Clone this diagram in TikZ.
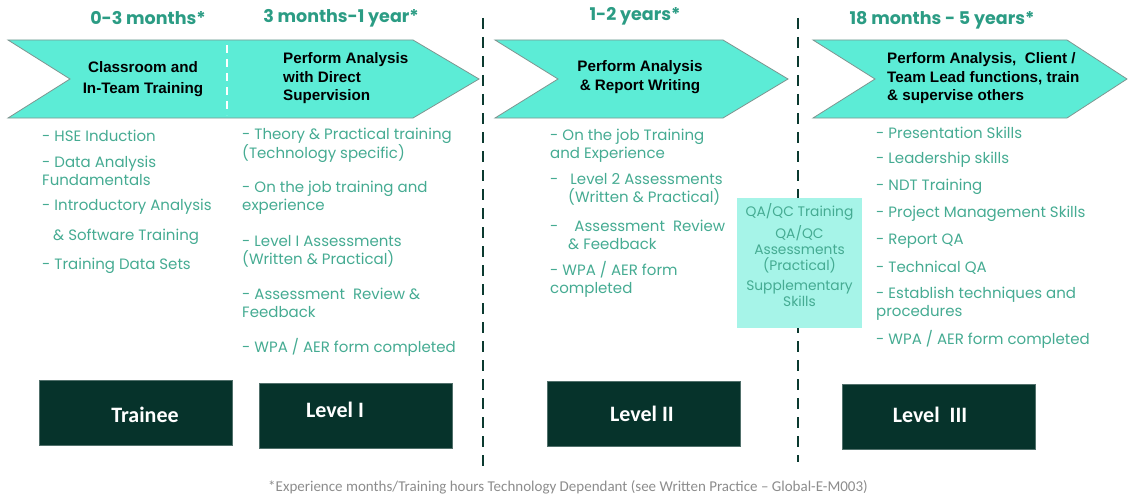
\documentclass[tikz,border=0pt]{standalone}
\usepackage{fontspec}
\setmainfont{Poppins}
\newfontfamily\chevfont{Liberation Sans}
\newfontfamily\lvfont{Carlito}
\usepackage{tikz}
\definecolor{chevfill}{HTML}{5CECD6}
\definecolor{chevedge}{HTML}{7F9590}
\definecolor{qafill}{HTML}{A6F4E8}
\definecolor{lvgreen}{HTML}{06332B}
\definecolor{headteal}{HTML}{2B9C84}
\definecolor{itemteal}{HTML}{45AB92}
\definecolor{divider}{HTML}{0B3A30}
\definecolor{notegray}{HTML}{8C8C8C}
\tikzset{
  chev/.style={fill=chevfill, draw=chevedge, line width=0.8pt},
  divide/.style={draw=divider, line width=2.6pt, dash pattern=on 11pt off 8pt},
  split/.style={draw=white, line width=2pt, dash pattern=on 8pt off 6pt},
  period/.style={inner sep=0pt, text=headteal, font=\fontsize{17.5}{20}\selectfont\bfseries},
  chevtext/.style={inner sep=0pt, text=black, font=\chevfont\fontsize{15.2}{18.5}\selectfont\bfseries},
  entry/.style={inner sep=0pt, anchor=west, align=left, text=itemteal, font=\fontsize{15}{18}\selectfont},
  lvbox/.style={fill=lvgreen, draw=lvgreen!70!white, line width=0.6pt, minimum width=193pt, minimum height=65pt},
  lvtext/.style={inner sep=0pt, text=white, font=\lvfont\fontsize{22}{26}\selectfont\bfseries},
  qabox/.style={fill=qafill, minimum width=125pt, minimum height=130pt},
  note/.style={inner sep=0pt, text=notegray, font=\lvfont\fontsize{15}{17}\selectfont}
}
\newcommand{\DrawChevron}[4]{% left,notch,slope,tip
  \draw[chev] (#1,40) -- (#3,40) -- (#4,79) -- (#3,118) -- (#1,118) -- (#2,79) -- cycle;
}

\begin{document}
\begin{tikzpicture}[x=1pt, y=-1pt]
  \useasboundingbox (0,0) rectangle (1128,495);

  % time spans
  \node[period] (hd1) at (148,18) {0-3 months*};
  \node[period] (hd2) at (341,18) {3 months-1 year*};
  \node[period] (hd3) at (635,16) {1-2 years*};
  \node[period] (hd4) at (942,20) {18 months - 5 years*};

  % stage dividers
  \draw[divide] (483,18) -- (483,470);
  \draw[divide] (798,18) -- (798,462);

  % chevrons
  \DrawChevron{8}{70}{413}{479}
  \DrawChevron{495}{558}{723}{788}
  \DrawChevron{813}{875}{1067}{1127}
  \draw[split] (227,45) -- (227,115);

  \node[chevtext, align=center, font=\chevfont\fontsize{15.2}{21}\selectfont\bfseries]
    (ch1) at (143,79.5) {Classroom and\\In-Team Training};
  \node[chevtext, align=left, anchor=west] (ch2) at (283,78.5)
    {Perform Analysis\\with Direct\\Supervision};
  \node[chevtext, align=center] (ch3) at (640,77) {Perform Analysis\\\& Report Writing};
  \node[chevtext, align=left, anchor=west] (ch4) at (887,78.5)
    {Perform Analysis,~ Client /\\Team Lead functions, train\\\& supervise others};

  % trainee
  \node[entry] (c1a) at (42,136) {- HSE Induction};
  \node[entry] (c1b) at (42,171) {- Data Analysis\\Fundamentals};
  \node[entry] (c1c) at (42,207) {- Introductory Analysis};
  \node[entry] (c1d) at (53,237) {\& Software Training};
  \node[entry] (c1e) at (42,266) {- Training Data Sets};

  % level I
  \node[entry] (c2a) at (242,145) {- Theory \& Practical training\\(Technology specific)};
  \node[entry] (c2b) at (242,198) {- On the job training and\\experience};
  \node[entry] (c2c) at (242,251) {- Level I Assessments\\(Written \& Practical)};
  \node[entry] (c2d) at (242,303) {- Assessment~ Review \&\\Feedback};
  \node[entry] (c2e) at (242,347) {- WPA / AER form completed};

  % level II
  \node[entry] (c3a) at (550,145.5) {- On the job Training\\and Experience};
  \node[entry] (c3b) at (550,189.5) {-~~ Level 2 Assessments\\\hspace*{18pt}(Written \& Practical)};
  \node[entry] (c3c) at (550,234.5) {-~~~ Assessment~ Review\\\hspace*{18pt}\& Feedback};
  \node[entry] (c3d) at (550,279) {- WPA / AER form\\completed};

  % QA/QC between II and III
  \node[qabox] (qa) at (799.5,263) {};
  \node[inner sep=0pt, align=center, text=itemteal, font=\fontsize{13.8}{16}\selectfont]
    (qatext) at (799.5,255) {QA/QC Training\\[4pt]QA/QC\\Assessments\\(Practical)\\[4pt]Supplementary\\Skills};

  % level III
  \node[entry] (c4a) at (876,133) {- Presentation Skills};
  \node[entry] (c4b) at (876,160) {- Leadership skills};
  \node[entry] (c4c) at (876,187) {- NDT Training};
  \node[entry] (c4d) at (876,214) {- Project Management Skills};
  \node[entry] (c4e) at (876,241) {- Report QA};
  \node[entry] (c4f) at (876,268) {- Technical QA};
  \node[entry] (c4g) at (876,303.5) {- Establish techniques and\\procedures};
  \node[entry] (c4h) at (876,339) {- WPA / AER form completed};

  % levels
  \node[lvbox] (trainee) at (135.5,413) {};
  \node[lvbox] (lvI) at (356,415.5) {};
  \node[lvbox] (lvII) at (643.5,413.5) {};
  \node[lvbox] (lvIII) at (938.5,416.5) {};
  \node[lvtext] (trlbl) at (145,415) {Trainee};
  \node[lvtext] (lvIlbl) at (335,410) {Level I};
  \node[lvtext] (lvIIlbl) at (642,414) {Level II};
  \node[lvtext] (lvIIIlbl) at (930,415) {Level~ III};

  \node[note] (fn) at (568,487)
    {*Experience months/Training hours Technology Dependant (see Written Practice – Global-E-M003)};
\end{tikzpicture}
\end{document}
